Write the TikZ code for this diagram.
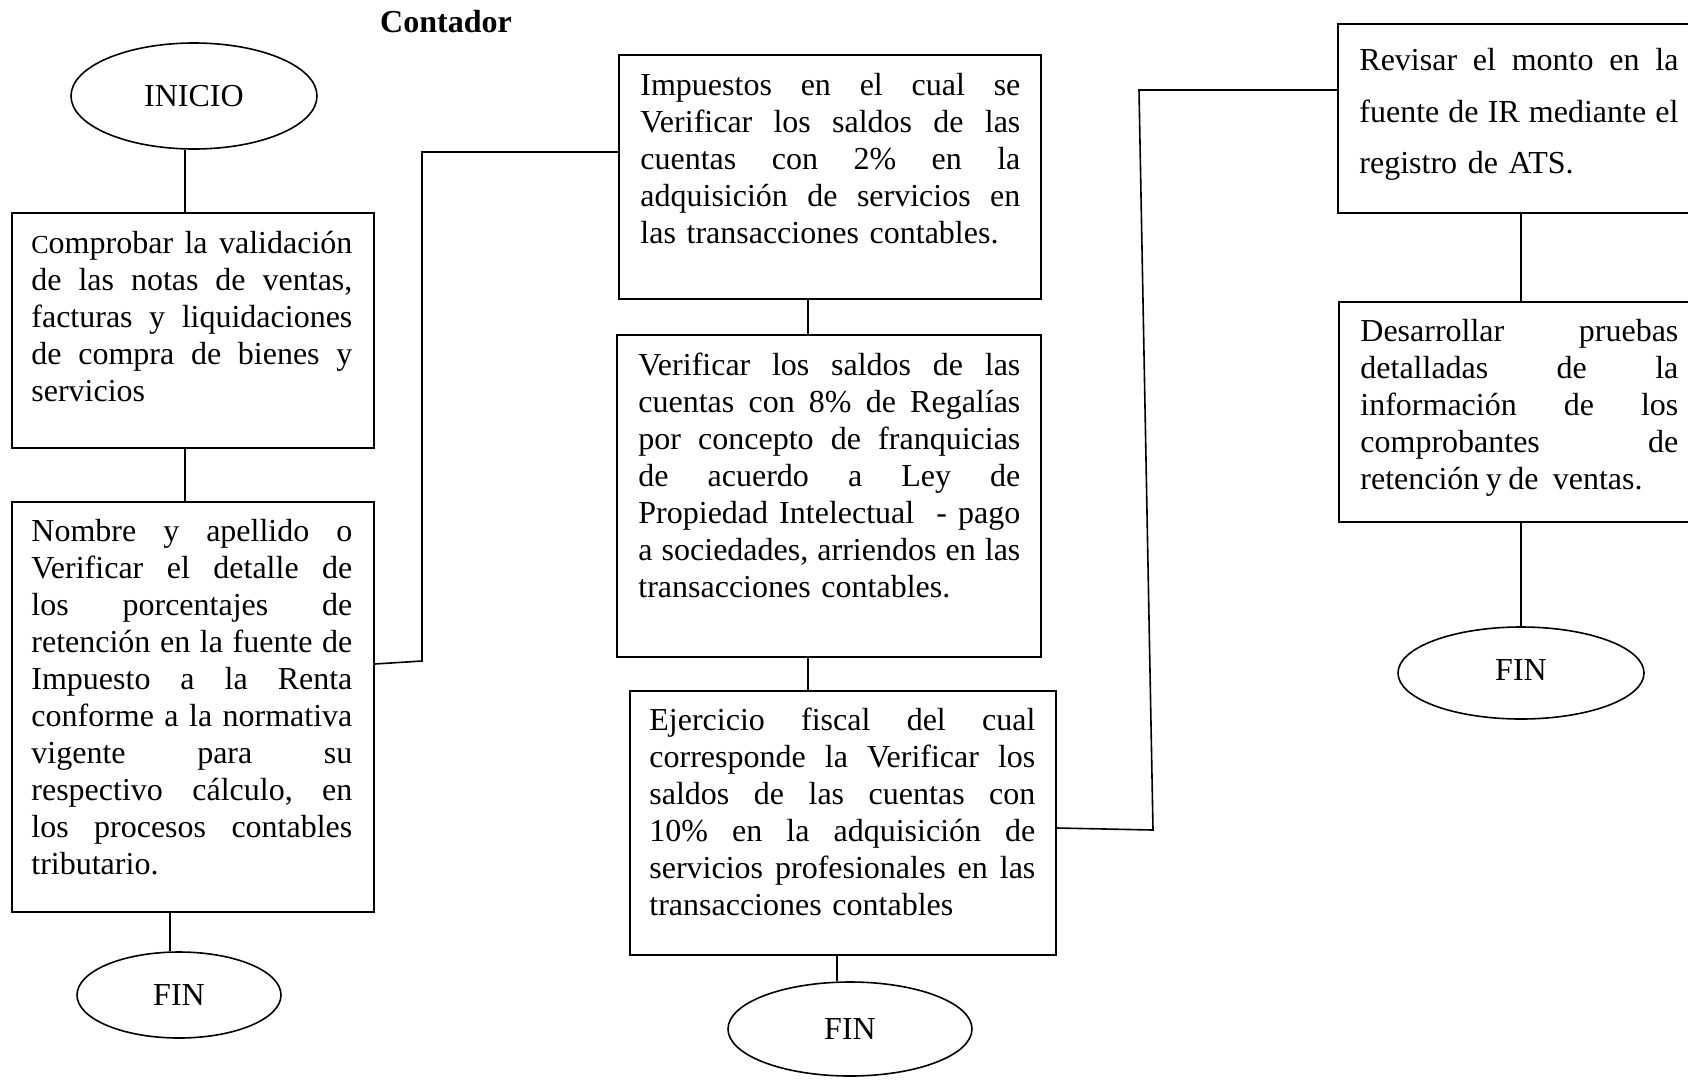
\documentclass[tikz,border=0pt]{standalone}
\usepackage{fontspec}
\setmainfont{Liberation Serif}
\usetikzlibrary{shapes.geometric,calc}
\newcommand\jline[1]{\hbox to \W{\frenchspacing\spaceskip=0.25em plus 1fil\relax #1}\par}
\newcommand\lline[1]{\hbox to \W{#1\hfil}\par}
\newcommand\fstrut{\rule{0pt}{26pt}}
\begin{document}
\begin{tikzpicture}[x=1pt,y=-1pt,
  every node/.style={font=\fontsize{32}{37}\selectfont},
  box/.style={draw,line width=1.6pt,inner sep=0pt,rectangle},
  term/.style={draw,line width=1.6pt,ellipse,inner sep=0pt},
  txt/.style={anchor=north west,inner sep=0pt,text width=#1},
  conn/.style={line width=1.6pt}]
\useasboundingbox (0,0) rectangle (1688,1079);
\clip (0,0) rectangle (1688,1079);

\node[font=\bfseries\fontsize{32}{37}\selectfont] (title) at (446,21.5) {Contador};

% column 1
\node[term,minimum width=246pt,minimum height=106pt] (inicio) at (194,96) {INICIO};
\node[box,minimum width=362pt,minimum height=235pt] (b1) at (193,330.5) {};
\node[txt=321pt] (t1) at ($(b1.north west)+(20,15)$) {\def\W{321pt}\parindent=0pt%
\jline{\fstrut{\fontsize{26}{37}\selectfont C}omprobar la validación}%
\jline{de las notas de ventas,}%
\jline{facturas y liquidaciones}%
\jline{de compra de bienes y}%
\lline{servicios}};
\node[box,minimum width=362pt,minimum height=410pt] (b2) at (193,707) {};
\node[txt=321pt] (t2) at ($(b2.north west)+(20,14)$) {\def\W{321pt}\parindent=0pt%
\jline{\fstrut Nombre y apellido o}%
\jline{Verificar el detalle de}%
\jline{los porcentajes de}%
\jline{retención en la fuente de}%
\jline{Impuesto a la Renta}%
\jline{conforme a la normativa}%
\jline{vigente para su}%
\jline{respectivo cálculo, en}%
\jline{los procesos contables}%
\lline{tributario.}};
\node[term,minimum width=204pt,minimum height=86pt] (fin1) at (179,995) {FIN};

% column 2
\node[box,minimum width=422pt,minimum height=244pt] (b3) at (830,177) {};
\node[txt=380pt] (t3) at ($(b3.north west)+(22,15)$) {\def\W{380pt}\parindent=0pt%
\jline{\fstrut Impuestos en el cual se}%
\jline{Verificar los saldos de las}%
\jline{cuentas con 2\% en la}%
\jline{adquisición de servicios en}%
\lline{las transacciones contables.}};
\node[box,minimum width=424pt,minimum height=322pt] (b4) at (829,496) {};
\node[txt=382pt] (t4) at ($(b4.north west)+(22,15)$) {\def\W{382pt}\parindent=0pt%
\jline{\fstrut Verificar los saldos de las}%
\jline{cuentas con 8\% de Regalías}%
\jline{por concepto de franquicias}%
\jline{de acuerdo a Ley de}%
\jline{Propiedad Intelectual\ \ - pago}%
\jline{a sociedades, arriendos en las}%
\lline{transacciones contables.}};
\node[box,minimum width=426pt,minimum height=264pt] (b5) at (843,823) {};
\node[txt=386pt] (t5) at ($(b5.north west)+(20,14)$) {\def\W{386pt}\parindent=0pt%
\jline{\fstrut Ejercicio fiscal del cual}%
\jline{corresponde la Verificar los}%
\jline{saldos de las cuentas con}%
\jline{10\% en la adquisición de}%
\jline{servicios profesionales en las}%
\lline{transacciones contables}};
\node[term,minimum width=244pt,minimum height=94pt] (fin2) at (850,1029) {FIN};

% column 3
\node[box,minimum width=382pt,minimum height=189pt] (b6) at (1529,118.5) {};
\node[txt=319pt,font=\fontsize{32}{51.7}\selectfont] (t6) at ($(b6.north west)+(22,21)$) {\def\W{319pt}\parindent=0pt%
\jline{\fstrut Revisar el monto en la}%
\jline{fuente de IR mediante el}%
\lline{registro de ATS.}};
\node[box,minimum width=381pt,minimum height=220pt] (b7) at (1529.5,412) {};
\node[txt=318pt] (t7) at ($(b7.north west)+(22,14)$) {\def\W{318pt}\parindent=0pt%
\jline{\fstrut Desarrollar pruebas}%
\jline{detalladas de la}%
\jline{información de los}%
\jline{comprobantes de}%
\lline{retención\hspace{0.2em}y\hspace{0.2em}de\hspace{0.45em}ventas.}};
\node[term,minimum width=246pt,minimum height=92pt] (fin3) at (1521,673) {\raisebox{5pt}{FIN}};

% guide coordinates
\coordinate (cA) at (185,0);
\coordinate (cB) at (170,0);
\coordinate (cC) at (808,0);
\coordinate (cD) at (837,0);
\coordinate (cE) at (1521,0);
\coordinate (j1) at (422,661);
\coordinate (j2) at (422,152);
\coordinate (k1) at (1153,830);
\coordinate (k2) at (1139,90);

% connectors
\draw[conn] (inicio.south -| cA) -- (b1.north -| cA);
\draw[conn] (b1.south -| cA) -- (b2.north -| cA);
\draw[conn] (b2.south -| cB) -- (fin1.north -| cB);
\draw[conn] ($(b2.east)+(0,-43)$) -- (j1) -- (j2) -- (b3.west |- j2);
\draw[conn] (b3.south -| cC) -- (b4.north -| cC);
\draw[conn] (b4.south -| cC) -- (b5.north -| cC);
\draw[conn] (b5.south -| cD) -- (fin2.north -| cD);
\draw[conn] ($(b5.east)+(0,5)$) -- (k1) -- (k2) -- (b6.west |- k2);
\draw[conn] (b6.south -| cE) -- (b7.north -| cE);
\draw[conn] (b7.south -| cE) -- (fin3.north -| cE);
\end{tikzpicture}
\end{document}
